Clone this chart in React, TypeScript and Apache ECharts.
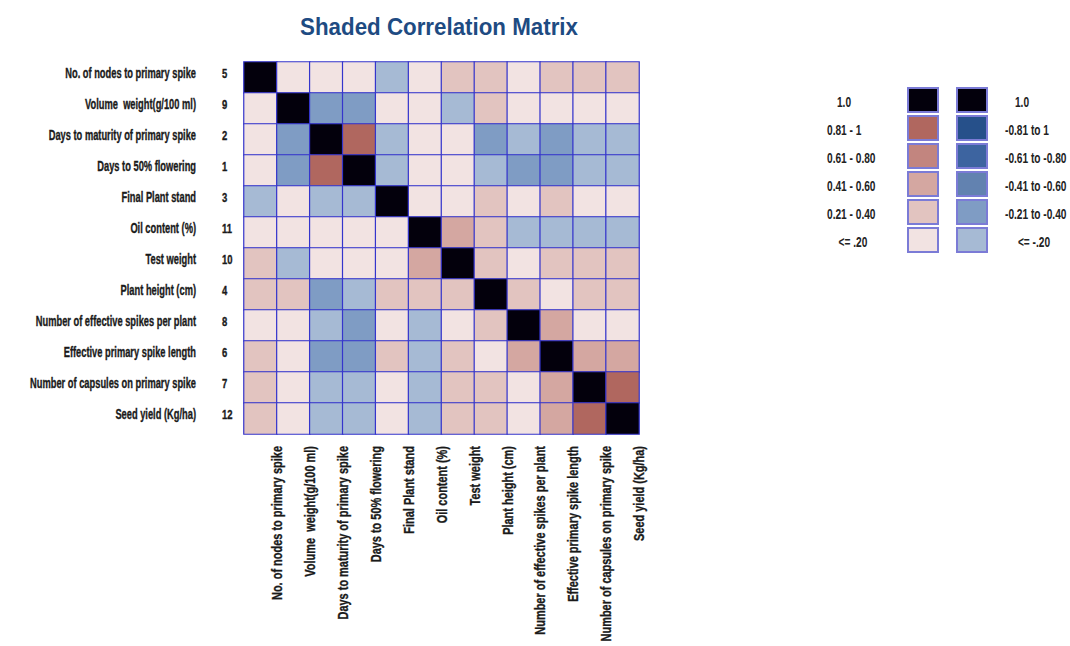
import React, { useEffect, useRef } from 'react';
import * as echarts from 'echarts';

const FAMILY = '"Liberation Sans", Arial, sans-serif';

const traitNames = [
  'No. of nodes to primary spike',
  'Volume  weight(g/100 ml)',
  'Days to maturity of primary spike',
  'Days to 50% flowering',
  'Final Plant stand',
  'Oil content (%)',
  'Test weight',
  'Plant height (cm)',
  'Number of effective spikes per plant',
  'Effective primary spike length',
  'Number of capsules on primary spike',
  'Seed yield (Kg/ha)',
];

const traitIds = ['5', '9', '2', '1', '3', '11', '10', '4', '8', '6', '7', '12'];

// Estimated correlation values (read from the shading bins)
const correlations: number[][] = [
  [1.0, 0.1, 0.1, 0.1, -0.1, 0.1, 0.3, 0.3, 0.1, 0.3, 0.3, 0.3],
  [0.1, 1.0, -0.3, -0.3, 0.1, 0.1, -0.1, 0.3, 0.1, 0.1, 0.1, 0.1],
  [0.1, -0.3, 1.0, 0.9, -0.1, 0.1, 0.1, -0.3, -0.1, -0.3, -0.1, -0.1],
  [0.1, -0.3, 0.9, 1.0, -0.1, 0.1, 0.1, -0.1, -0.3, -0.3, -0.1, -0.1],
  [-0.1, 0.1, -0.1, -0.1, 1.0, 0.1, 0.1, 0.3, 0.1, 0.3, 0.1, 0.1],
  [0.1, 0.1, 0.1, 0.1, 0.1, 1.0, 0.5, 0.3, -0.1, -0.1, -0.1, -0.1],
  [0.3, -0.1, 0.1, 0.1, 0.1, 0.5, 1.0, 0.3, 0.1, 0.3, 0.3, 0.3],
  [0.3, 0.3, -0.3, -0.1, 0.3, 0.3, 0.3, 1.0, 0.3, 0.1, 0.3, 0.3],
  [0.1, 0.1, -0.1, -0.3, 0.1, -0.1, 0.1, 0.3, 1.0, 0.5, 0.1, 0.1],
  [0.3, 0.1, -0.3, -0.3, 0.3, -0.1, 0.3, 0.1, 0.5, 1.0, 0.5, 0.5],
  [0.3, 0.1, -0.1, -0.1, 0.1, -0.1, 0.3, 0.3, 0.1, 0.5, 1.0, 0.9],
  [0.3, 0.1, -0.1, -0.1, 0.1, -0.1, 0.3, 0.3, 0.1, 0.5, 0.9, 1.0],
];

const posLabels = ['1.0', '0.81 - 1', '0.61 - 0.80', '0.41 - 0.60', '0.21 - 0.40', '<= .20'];
const negLabels = ['1.0', '-0.81 to 1', '-0.61 to -0.80', '-0.41 to -0.60', '-0.21 to -0.40', '<= -.20'];
const posColors = ['#03000c', '#b0675f', '#c2857f', '#d4a7a1', '#e2c4c0', '#f2e3e2'];
const negColors = ['#03000c', '#26508a', '#3d64a0', '#6282b0', '#7f9cc4', '#a6bad4'];

const TEXT = '#1a1a1a';

export default function App() {
  const ref = useRef<HTMLDivElement>(null);
  useEffect(() => {
    const chart = echarts.init(ref.current!, null, { renderer: 'svg' });
    const data: number[][] = [];
    correlations.forEach((row, i) => row.forEach((v, j) => data.push([j, i, v])));

    const ctx = document.createElement('canvas').getContext('2d')!;
    const measure = (t: string, size: number) => {
      ctx.font = `bold ${size}px ${FAMILY}`;
      return ctx.measureText(t).width;
    };
    const fit = (pairs: [string, number][], size: number) => {
      const tgt = pairs.reduce((s, p) => s + p[1], 0);
      const got = pairs.reduce((s, p) => s + measure(p[0], size), 0);
      return got > 0 ? tgt / got : 0.7;
    };

    const TITLE_SIZE = 24, Y_SIZE = 14, X_SIZE = 15, LEG_SIZE = 14, NUM_SIZE = 13;
    const titleScale = fit([['Shaded Correlation Matrix', 278]], TITLE_SIZE);
    const yScale = fit([['No. of nodes to primary spike', 132], ['Number of capsules on primary spike', 165]], Y_SIZE);
    const xScale = fit([['No. of nodes to primary spike', 150], ['Number of effective spikes per plant', 193]], X_SIZE);
    const legScale = fit([['0.61 - 0.80', 48], ['-0.61 to -0.80', 62]], LEG_SIZE);
    const numScale = fit([['11', 10]], NUM_SIZE);
    const heavy = { stroke: TEXT, lineWidth: 0.35 };

    chart.setOption({
      animation: false,
      backgroundColor: '#ffffff',
      grid: { left: 244, top: 62, width: 395, height: 372 },
      xAxis: {
        type: 'category', data: traitNames,
        axisLine: { show: false }, axisTick: { show: false }, splitArea: { show: false },
        axisLabel: { show: false },
      },
      yAxis: {
        type: 'category', data: traitNames, inverse: true,
        axisLine: { show: false }, axisTick: { show: false }, splitArea: { show: false },
        axisLabel: { show: false },
      },
      visualMap: {
        type: 'piecewise', show: false, dimension: 2, seriesIndex: 0,
        pieces: [
          { value: 1, color: posColors[0] },
          { gt: 0.8, lt: 1, color: posColors[1] },
          { gt: 0.6, lte: 0.8, color: posColors[2] },
          { gt: 0.4, lte: 0.6, color: posColors[3] },
          { gt: 0.2, lte: 0.4, color: posColors[4] },
          { gte: 0, lte: 0.2, color: posColors[5] },
          { gte: -0.2, lt: 0, color: negColors[5] },
          { gte: -0.4, lt: -0.2, color: negColors[4] },
          { gte: -0.6, lt: -0.4, color: negColors[3] },
          { gte: -0.8, lt: -0.6, color: negColors[2] },
          { lt: -0.8, color: negColors[1] },
        ],
      },
      series: [{
        type: 'heatmap', data,
        itemStyle: { borderColor: '#3535cc', borderWidth: 1.2 },
        emphasis: { disabled: true },
        label: { show: false },
      }],
    });

    const g: any[] = [];
    g.push({
      type: 'text', x: 439, y: 26.5, scaleX: titleScale,
      style: { text: 'Shaded Correlation Matrix', textAlign: 'center', textVerticalAlign: 'middle', fill: '#1e4b82', font: `bold ${TITLE_SIZE}px ${FAMILY}` },
    });

    traitNames.forEach((name, i) => {
      const py = chart.convertToPixel({ yAxisIndex: 0 }, i) as number;
      const px = chart.convertToPixel({ xAxisIndex: 0 }, i) as number;
      g.push({
        type: 'text', x: 196, y: py - 4.5, scaleX: yScale,
        style: { text: name, textAlign: 'right', textVerticalAlign: 'middle', fill: TEXT, ...heavy, font: `bold ${Y_SIZE}px ${FAMILY}` },
      });
      g.push({
        type: 'text', x: 222, y: py - 4.5, scaleX: numScale,
        style: { text: traitIds[i], textAlign: 'left', textVerticalAlign: 'middle', fill: TEXT, ...heavy, font: `bold ${NUM_SIZE}px ${FAMILY}` },
      });
      g.push({
        type: 'text', x: px + 16.5, y: 446, rotation: Math.PI / 2, scaleX: xScale,
        style: { text: name, textAlign: 'right', textVerticalAlign: 'middle', fill: TEXT, ...heavy, font: `bold ${X_SIZE}px ${FAMILY}` },
      });
    });

    const legAlign = ['center', 'left', 'left', 'left', 'left', 'center'];
    const legLeftX = [844, 827, 827, 827, 827, 853];
    const legRightX = [1022, 1005, 1005, 1005, 1005, 1034];
    for (let i = 0; i < 6; i++) {
      const y = 88 + 28 * i;
      g.push({
        type: 'rect', shape: { x: 908, y, width: 30, height: 24 },
        style: { fill: posColors[i], stroke: '#7b7bd6', lineWidth: 2 },
      });
      g.push({
        type: 'rect', shape: { x: 957, y, width: 30, height: 24 },
        style: { fill: negColors[i], stroke: '#7b7bd6', lineWidth: 2 },
      });
      g.push({
        type: 'text', x: legLeftX[i], y: y + 14.5, scaleX: legScale,
        style: { text: posLabels[i], textAlign: legAlign[i], textVerticalAlign: 'middle', fill: '#222', font: `bold ${LEG_SIZE}px ${FAMILY}` },
      });
      g.push({
        type: 'text', x: legRightX[i], y: y + 14.5, scaleX: legScale,
        style: { text: negLabels[i], textAlign: legAlign[i], textVerticalAlign: 'middle', fill: '#222', font: `bold ${LEG_SIZE}px ${FAMILY}` },
      });
    }
    chart.setOption({ graphic: g });
    return () => chart.dispose();
  }, []);
  return <div ref={ref} style={{ position: 'absolute', left: 0, top: 0, width: 1070, height: 646 }} />;
}
